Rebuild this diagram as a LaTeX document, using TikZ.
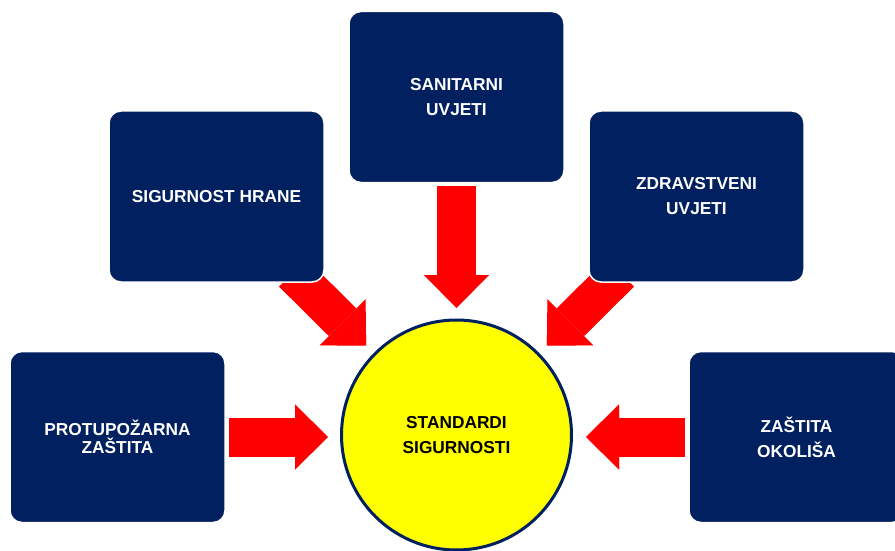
\documentclass[tikz,border=0pt]{standalone}
\usepackage{fontspec}
\setmainfont{Liberation Sans}
\usetikzlibrary{arrows.meta,backgrounds}
\definecolor{boxblue}{RGB}{0,32,96}
\definecolor{arrowred}{RGB}{255,0,0}
\definecolor{sunyellow}{RGB}{255,255,0}
\tikzset{
  topicbox/.style={rectangle, rounded corners=12pt, fill=boxblue, draw=white, line width=1.5pt,
    minimum width=215pt, minimum height=171pt, inner sep=0pt, text=white, align=center,
    font=\bfseries\fontsize{17.3}{25}\selectfont},
  fatarrow/.style={arrowred, line width=39pt, -{Triangle[length=33pt,width=65pt,line width=0.01pt]}}
}
\begin{document}
\begin{tikzpicture}[x=1pt, y=-1pt]
        \useasboundingbox (0,0) rectangle (895,551);

        % Topic boxes
        \node[topicbox] (sanit) at (456.5,97) {SANITARNI\\UVJETI};
        \node[topicbox] (hrane) at (216.5,196.5) {SIGURNOST HRANE};
        \node[topicbox] (zdrav) at (696.5,196.5) {ZDRAVSTVENI\\UVJETI};
        \node[topicbox, font=\bfseries\fontsize{17.3}{18.5}\selectfont] (prot) at (117.5,437) {PROTUPOŽARNA\\ZAŠTITA};
        \node[topicbox] (okol) at (796.5,437) {ZAŠTITA\\OKOLIŠA};

        % Centre circle
        \node[circle, fill=sunyellow, draw=boxblue, line width=3pt, minimum size=230pt, inner sep=0pt,
          align=center, font=\bfseries\fontsize{17.3}{25}\selectfont] (stand) at (456.5,435) {STANDARDI\\SIGURNOSTI};

        % Block arrows, behind the boxes
        \begin{scope}[on background layer]
        \draw[fatarrow] ([shift={(0,3)}]sanit.south) -- ([shift={(0,-10.5)}]stand.north);
        \draw[fatarrow] ([shift={(-32,-10)}]hrane.south east) -- ([shift={(-8,-7)}]stand.north west);
        \draw[fatarrow] ([shift={(32,-10)}]zdrav.south west) -- ([shift={(8,-7)}]stand.north east);
        \draw[fatarrow] ([shift={(3,0)}]prot.east) -- ([shift={(-12,2)}]stand.west);
        \draw[fatarrow] ([shift={(-3,0)}]okol.west) -- ([shift={(13,2)}]stand.east);
        \end{scope}

    \end{tikzpicture}
\end{document}
